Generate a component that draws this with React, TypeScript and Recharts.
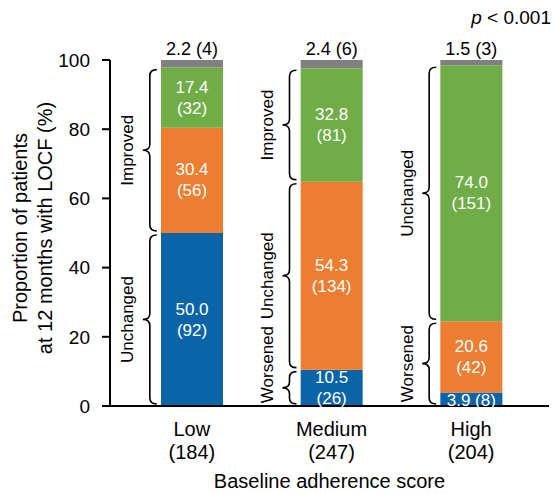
import React from "react";
import { BarChart, Bar, XAxis, YAxis, LabelList, ReferenceArea } from "recharts";

// baseline adherence groups
const categories = ["Low", "Medium", "High"];
const groupSizes = [184, 247, 204];

// adherence at 12 months (%) and n, stacked bottom -> top
const lowPct = [50.0, 10.5, 3.9];
const lowN = [92, 26, 8];
const mediumPct = [30.4, 54.3, 20.6];
const mediumN = [56, 134, 42];
const highPct = [17.4, 32.8, 74.0];
const highN = [32, 81, 151];
const missingPct = [2.2, 2.4, 1.5];
const missingN = [4, 6, 3];

// braces: category, text, first segment, segment after last (0 = low ... 3 = missing)
const braceCategory = ["Low", "Low", "Medium", "Medium", "Medium", "High", "High"];
const braceLabel = ["Unchanged", "Improved", "Worsened", "Unchanged", "Improved", "Worsened", "Unchanged"];
const braceStart = [0, 1, 0, 1, 2, 0, 2];
const braceEnd = [1, 3, 1, 2, 3, 2, 3];

const yTicks = [0, 20, 40, 60, 80, 100];

const FONT = "'Liberation Sans', Arial, sans-serif";
const BAR = 62;

const fmt = (p: number, n: number) => `${p.toFixed(1)}\n(${n})`;

const data = categories.map((c, i) => ({
  name: c,
  size: groupSizes[i],
  low: lowPct[i],
  medium: mediumPct[i],
  high: highPct[i],
  missing: missingPct[i],
  lowLabel: fmt(lowPct[i], lowN[i]),
  mediumLabel: fmt(mediumPct[i], mediumN[i]),
  highLabel: fmt(highPct[i], highN[i]),
  missingLabel: `${missingPct[i].toFixed(1)} (${missingN[i]})`,
}));

const segOf = (cat: string) => {
  const i = categories.indexOf(cat);
  return [lowPct[i], mediumPct[i], highPct[i], missingPct[i]];
};
const sumTo = (arr: number[], k: number) => arr.slice(0, k).reduce((a, b) => a + b, 0);

const braces = braceCategory.map((c, i) => {
  const seg = segOf(c);
  return { cat: c, label: braceLabel[i], from: sumTo(seg, braceStart[i]), to: sumTo(seg, braceEnd[i]) };
});

const InsideLabel = (props: any) => {
  const vb = props.viewBox || props;
  const { x, y, width, height } = vb;
  const cx = x + width / 2;
  const cy = y + height / 2;
  const lines = String(props.value).split("\n");
  const small = Math.abs(height) < 20;
  if (small) {
    return (
      <text x={cx} y={cy + 1} fill="#fff" fontSize={17} fontFamily={FONT} textAnchor="middle" dominantBaseline="central">
        {lines.join(" ")}
      </text>
    );
  }
  return (
    <g>
      <text x={cx} y={cy - 10.5} fill="#fff" fontSize={17} fontFamily={FONT} textAnchor="middle" dominantBaseline="central">
        {lines[0]}
      </text>
      <text x={cx} y={cy + 10.5} fill="#fff" fontSize={17} fontFamily={FONT} textAnchor="middle" dominantBaseline="central">
        {lines[1]}
      </text>
    </g>
  );
};

const Brace = (props: any) => {
  const { x, y, width, height, label } = props;
  const center = x + width / 2;
  const barLeft = center - BAR / 2;
  const xv = barLeft - 11;
  const xTip = barLeft - 18;
  const xEnd = barLeft - 4;
  const r = 6;
  const top = y + 2;
  const bot = y + height - 2;
  const mid = (top + bot) / 2;
  const d = `M${xEnd},${top} Q${xv},${top} ${xv},${top + r} L${xv},${mid - r} Q${xv},${mid} ${xTip},${mid} Q${xv},${mid} ${xv},${mid + r} L${xv},${bot - r} Q${xv},${bot} ${xEnd},${bot}`;
  // keep the rotated word above the axis line
  const len = label.length * 0.58 * 17;
  const ly = Math.min(mid, 404 - len / 2);
  const lx = barLeft - 33;
  return (
    <g>
      <path d={d} fill="none" stroke="#000" strokeWidth={1.6} />
      <text
        x={lx}
        y={ly}
        transform={`rotate(-90, ${lx}, ${ly})`}
        fontSize={17}
        fontFamily={FONT}
        textAnchor="middle"
        dominantBaseline="central"
        fill="#000"
      >
        {label}
      </text>
    </g>
  );
};

const XTick = (props: any) => {
  const { x, y, payload } = props;
  const i = categories.indexOf(payload.value);
  return (
    <g>
      <text x={x} y={y + 23} fontSize={20} fontFamily={FONT} textAnchor="middle" dominantBaseline="central" fill="#000">
        {payload.value}
      </text>
      <text x={x} y={y + 46} fontSize={20} fontFamily={FONT} textAnchor="middle" dominantBaseline="central" fill="#000">
        ({groupSizes[i]})
      </text>
    </g>
  );
};

const YTitle = () => (
  <g>
    <text x={20} y={228} transform="rotate(-90, 20, 228)" fontSize={20} fontFamily={FONT} textAnchor="middle" dominantBaseline="central" fill="#000">
      Proportion of patients
    </text>
    <text x={45} y={228} transform="rotate(-90, 45, 228)" fontSize={20} fontFamily={FONT} textAnchor="middle" dominantBaseline="central" fill="#000">
      at 12 months with LOCF (%)
    </text>
  </g>
);

export default function App() {
  return (
    <div style={{ position: "absolute", left: 0, top: 0, width: 553, height: 494, background: "#fff", fontFamily: FONT }}>
      <BarChart width={553} height={494} data={data} margin={{ top: 60, right: 4, bottom: 0, left: 50 }}>
        <Bar dataKey="low" stackId="a" fill="#0b64a8" barSize={BAR} isAnimationActive={false}>
          <LabelList dataKey="lowLabel" content={InsideLabel} />
        </Bar>
        <Bar dataKey="medium" stackId="a" fill="#ed7d31" barSize={BAR} isAnimationActive={false}>
          <LabelList dataKey="mediumLabel" content={InsideLabel} />
        </Bar>
        <Bar dataKey="high" stackId="a" fill="#70ad47" barSize={BAR} isAnimationActive={false}>
          <LabelList dataKey="highLabel" content={InsideLabel} />
        </Bar>
        <Bar dataKey="missing" stackId="a" fill="#808080" barSize={BAR} isAnimationActive={false}>
          <LabelList dataKey="missingLabel" position="top" offset={5} fill="#000" fontSize={18} fontFamily={FONT} />
        </Bar>
        {braces.map((b, i) => (
          <ReferenceArea
            key={i}
            x1={b.cat}
            x2={b.cat}
            y1={b.from}
            y2={b.to}
            ifOverflow="visible"
            shape={(p: any) => <Brace {...p} label={b.label} />}
          />
        ))}
        <XAxis
          dataKey="name"
          height={88}
          padding={{ left: 12, right: 8 }}
          axisLine={{ stroke: "#000", strokeWidth: 2 }}
          tickLine={false}
          tickSize={0}
          tickMargin={0}
          tick={<XTick />}
          interval={0}
          label={{ value: "Baseline adherence score", position: "insideBottom", offset: 6, fill: "#000", fontSize: 20, fontFamily: FONT }}
        />
        <YAxis
          width={60}
          domain={[0, 100]}
          ticks={yTicks}
          interval={0}
          tickSize={8}
          tickMargin={12}
          axisLine={{ stroke: "#000", strokeWidth: 2 }}
          tickLine={{ stroke: "#000", strokeWidth: 2 }}
          tick={{ fill: "#000", fontSize: 19, fontFamily: FONT }}
          label={{ content: () => <YTitle /> }}
        />
      </BarChart>
      <div style={{ position: "absolute", right: 2, top: 6, fontSize: 19, lineHeight: "24px", color: "#000" }}>
        <i>p</i> &lt; 0.001
      </div>
    </div>
  );
}
